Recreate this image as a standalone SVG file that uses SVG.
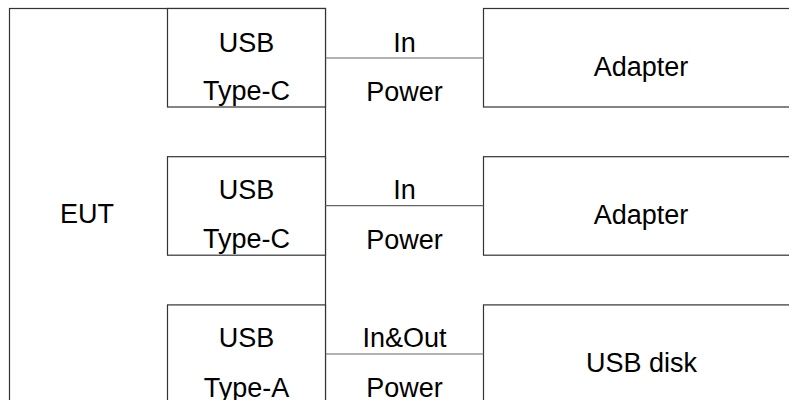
<svg xmlns="http://www.w3.org/2000/svg" width="789" height="400" viewBox="0 0 789 400">
<style>
.box{fill:#fff;stroke:#333;stroke-width:1.2}
.conn{stroke:#666;stroke-width:1.2;fill:none}
text{font-family:"Liberation Sans",Arial,sans-serif;font-size:27px;fill:#000;text-anchor:middle}
</style>
<rect x="0" y="0" width="789" height="400" fill="#fff"/>
<g id="eut">
<rect class="box" x="9.5" y="8.5" width="316" height="410"/>
<text x="87" y="223">EUT</text>
</g>
<g id="port1">
<rect class="box" x="167.5" y="8.5" width="158" height="98.5"/>
<text x="246.5" y="51.5">USB</text>
<text x="246.5" y="100">Type-C</text>
</g>
<g id="port2">
<rect class="box" x="167.5" y="156.7" width="158" height="98.5"/>
<text x="246.5" y="199.3">USB</text>
<text x="246.5" y="248.3">Type-C</text>
</g>
<g id="port3">
<rect class="box" x="167.5" y="304.9" width="158" height="110"/>
<text x="246.5" y="346.7">USB</text>
<text x="246.5" y="396.5">Type-A</text>
</g>
<g id="adapter1">
<rect class="box" x="483.5" y="8.5" width="320" height="98.5"/>
<text x="641" y="76">Adapter</text>
</g>
<g id="adapter2">
<rect class="box" x="483.5" y="156.7" width="320" height="98.5"/>
<text x="641" y="224">Adapter</text>
</g>
<g id="usbdisk">
<rect class="box" x="483.5" y="304.9" width="320" height="110"/>
<text x="641.5" y="372.3">USB disk</text>
</g>
<g id="connectors">
<line class="conn" x1="325.5" y1="58" x2="483.5" y2="58"/>
<line class="conn" x1="325.5" y1="205.7" x2="483.5" y2="205.7"/>
<line class="conn" x1="325.5" y1="354" x2="483.5" y2="354"/>
<text x="404.5" y="51.5">In</text>
<text x="404.5" y="100.5">Power</text>
<text x="404.5" y="199.3">In</text>
<text x="404.5" y="248.5">Power</text>
<text x="404.5" y="346.7">In&amp;Out</text>
<text x="404.5" y="396.5">Power</text>
</g>
</svg>
